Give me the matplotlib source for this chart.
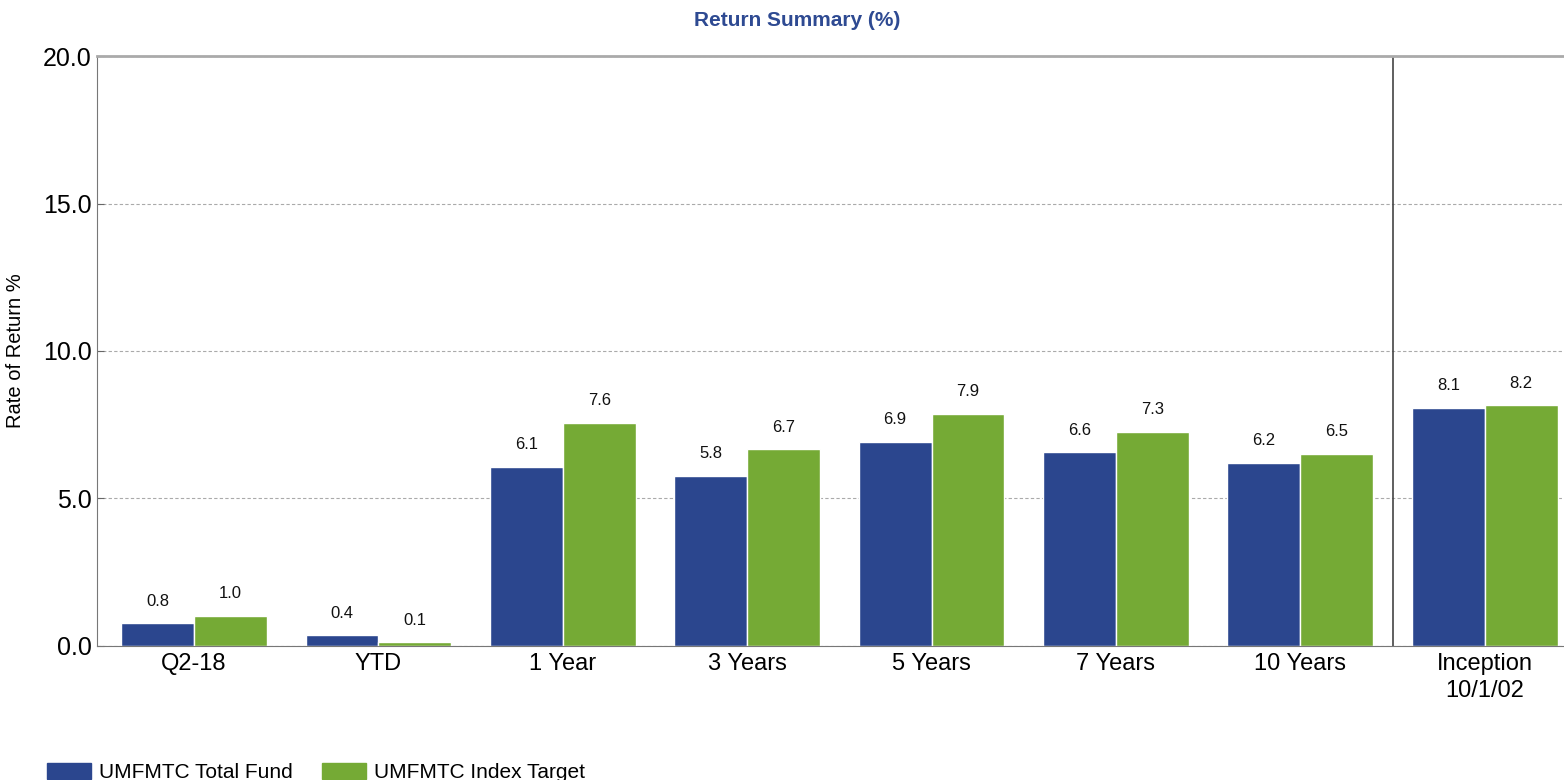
import numpy as np
import matplotlib
matplotlib.use('Agg')
import matplotlib.pyplot as plt
from matplotlib.patches import Patch

plt.rcParams['font.family'] = ['Liberation Sans', 'DejaVu Sans']

categories = ['Q2-18', 'YTD', '1 Year', '3 Years', '5 Years', '7 Years', '10 Years', 'Inception\n10/1/02']
total_fund = [0.76, 0.36, 6.08, 5.76, 6.91, 6.56, 6.21, 8.07]
index_target = [1.02, 0.12, 7.57, 6.66, 7.86, 7.26, 6.51, 8.16]
series_names = ['UMFMTC Total Fund', 'UMFMTC Index Target']

blue = '#2b468e'
green = '#75aa35'

fig = plt.figure(figsize=(15.64, 7.8), dpi=100)
ax = fig.add_axes([0.062, 0.172, 0.938, 0.756])

x = np.arange(len(categories))
w = 0.395
b1 = ax.bar(x - w/2, total_fund, w, color=blue, edgecolor='white', linewidth=1)
b2 = ax.bar(x + w/2, index_target, w, color=green, edgecolor='white', linewidth=1)

# value labels above each bar
for bars, vals in [(b1, total_fund), (b2, index_target)]:
    for r, v in zip(bars, vals):
        ax.annotate('%.1f' % v, (r.get_x() + r.get_width()/2, r.get_height()),
                    xytext=(0, 16), textcoords='offset points',
                    ha='center', va='center', fontsize=12, color='#111111')

ax.set_xlim(-0.526, 7.43)
ax.set_ylim(0, 20)
ax.set_yticks([0, 5, 10, 15, 20])
ax.set_yticklabels(['%.1f' % t for t in [0, 5, 10, 15, 20]], fontsize=18)
ax.set_xticks(x)
ax.set_xticklabels(categories, fontsize=17, linespacing=1.3)
ax.tick_params(axis='x', length=0, pad=5)
ax.tick_params(axis='y', direction='in', length=5, color='#666666', pad=4)

ax.yaxis.grid(True, linestyle=(0, (3, 2)), color='#aaaaaa', linewidth=0.8)
ax.set_axisbelow(True)
ax.axvline(6.5, color='#444444', linewidth=1.2)

for s in ['left', 'bottom']:
    ax.spines[s].set_color('#777777')
ax.spines['top'].set_color('#aaaaaa')
ax.spines['top'].set_linewidth(2)
ax.spines['right'].set_visible(False)

ax.set_ylabel('Rate of Return %', fontsize=14.5)
ax.yaxis.set_label_coords(-0.049, 0.5)
fig.text(0.51, 0.974, 'Return Summary (%)', ha='center', va='center',
         fontsize=15, fontweight='bold', color='#2e4a92')

handles = [Patch(color=blue), Patch(color=green)]
fig.legend(handles, series_names, loc='lower left', bbox_to_anchor=(0.018, -0.027),
           ncol=2, frameon=False, fontsize=15, handlelength=2.1, handleheight=0.8,
           columnspacing=1.4, handletextpad=0.4)

fig.savefig('out.png', dpi=100)
